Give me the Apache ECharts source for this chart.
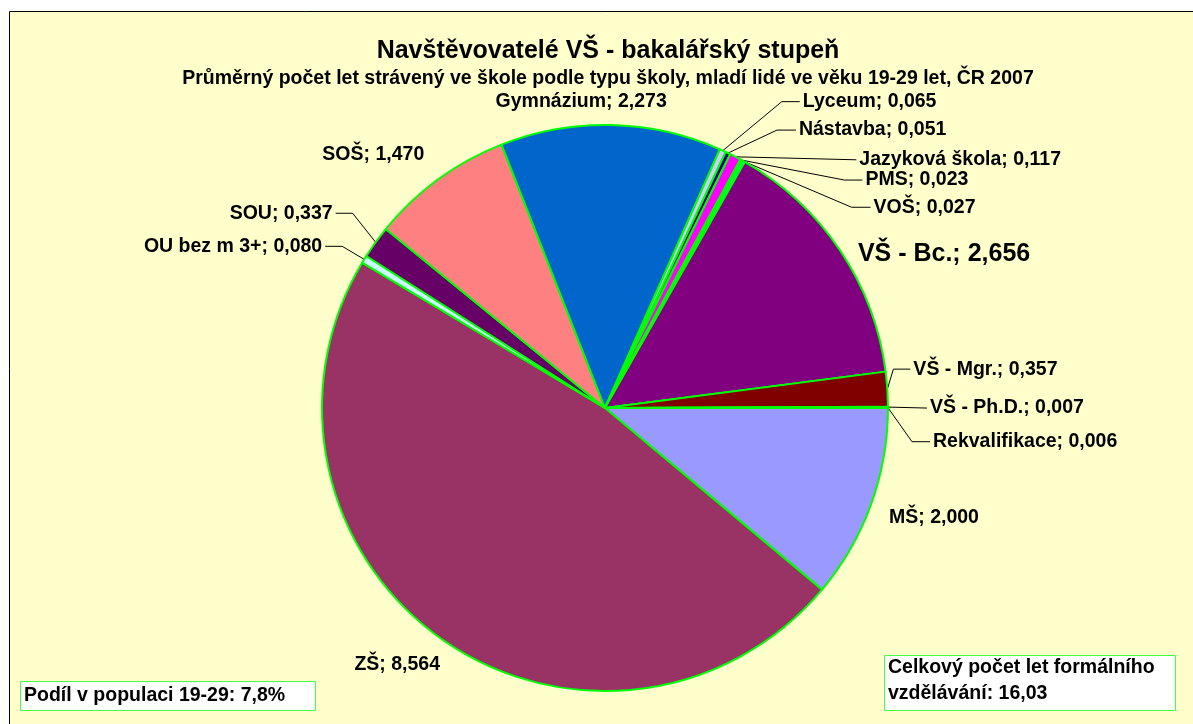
<!DOCTYPE html>
<html>
<head>
<meta charset="utf-8">
<title>Navštěvovatelé VŠ - bakalářský stupeň</title>
<script src="https://cdn.jsdelivr.net/npm/echarts@6.0.0/dist/echarts.min.js"></script>
<style>
    html, body { margin: 0; padding: 0; background: #fff; }
    #pie { width: 1193px; height: 724px; }
</style>
</head>
<body>
<div id="pie"></div>
<script>
// school types, in the order Excel draws them (clockwise from 3 o'clock)
var schools = ['MŠ', 'ZŠ', 'OU bez m 3+', 'SOU', 'SOŠ', 'Gymnázium', 'Lyceum', 'Nástavba',
    'Jazyková škola', 'PMS', 'VOŠ', 'VŠ - Bc.', 'VŠ - Mgr.', 'VŠ - Ph.D.', 'Rekvalifikace'];
// average years spent at each type of school
var years = [2.000, 8.564, 0.080, 0.337, 1.470, 2.273, 0.065, 0.051,
    0.117, 0.023, 0.027, 2.656, 0.357, 0.007, 0.006];
var sliceColors = ['#9999FF', '#993366', '#CCFFFF', '#660066', '#FF8080', '#0066CC', '#CCCCFF', '#000080',
    '#FF00FF', '#FFFF00', '#00FFFF', '#800080', '#800000', '#008080', '#0000FF'];

var titleText = 'Navštěvovatelé VŠ - bakalářský stupeň';
var subtitleText = 'Průměrný počet let strávený ve škole podle typu školy, mladí lidé ve věku 19-29 let, ČR 2007';
var shareNote = 'Podíl v populaci 19-29: 7,8%';
var totalNote = 'Celkový počet let formálního\nvzdělávání: 16,03';

// label placement relative to the slice's edge point (the Excel labels were dragged by hand)
// dx/dy: text anchor offset, elbow: flat part of the leader line, line: draw leader
var labelPlace = [
    { dx: 18, dy: 13, line: false },
    { dx: -1, dy: 26, line: false },
    { dx: -42, dy: -13, elbow: 17, line: true },
    { dx: -43, dy: -29, elbow: 17, line: true },
    { dx: -14, dy: -25, line: false },
    { dx: -30, dy: -23, line: false, align: 'center' },
    { dx: 80, dy: -49, elbow: 18, line: true },
    { dx: 71, dy: -23, elbow: 19, line: true },
    { dx: 124, dy: 3, elbow: 0, line: true },
    { dx: 124, dy: 20, elbow: 18, line: true },
    { dx: 130, dy: 46, elbow: 19, line: true },
    { dx: 18, dy: 4, line: false, big: true },
    { dx: 26, dy: -20, elbow: 17, line: true },
    { dx: 42, dy: 1, elbow: 0, line: true },
    { dx: 45, dy: 34, elbow: 18, line: true }
];

var font = '"Liberation Sans", Arial, sans-serif';

function fmt(v) {
    return v.toFixed(3).replace('.', ',');
}

function createViz() {
    var myChart = echarts.init(document.getElementById('pie'));

    var data = schools.map(function (name, i) {
        var item = {
            name: name,
            value: years[i],
            itemStyle: { color: sliceColors[i] }
        };
        if (labelPlace[i].big) {
            item.label = { fontSize: 25 };
        }
        if (!labelPlace[i].line) {
            item.labelLine = { lineStyle: { opacity: 0 } };
        }
        return item;
    });

    var option = {
        backgroundColor: '#ffffff',
        animation: false,
        title: {
            text: titleText,
            subtext: subtitleText,
            left: 603,
            top: 34,
            textAlign: 'center',
            itemGap: 5,
            textStyle: {
                fontFamily: font,
                fontWeight: 'bold',
                fontSize: 25,
                lineHeight: 25,
                color: '#000'
            },
            subtextStyle: {
                fontFamily: font,
                fontWeight: 'bold',
                fontSize: 19.5,
                lineHeight: 20,
                color: '#000'
            }
        },
        graphic: [
            {
                type: 'rect',
                z: -10,
                shape: { x: 9.5, y: 11.5, width: 1200, height: 730 },
                style: { fill: '#FFFFCC', stroke: '#000', lineWidth: 1 }
            },
            {
                type: 'rect',
                shape: { x: 20.5, y: 681.5, width: 295, height: 29 },
                style: { fill: '#fff', stroke: '#44FF44', lineWidth: 1 }
            },
            {
                type: 'text',
                style: {
                    text: shareNote, x: 24, y: 696, verticalAlign: 'middle',
                    font: 'bold 19.5px ' + font, fill: '#000'
                }
            },
            {
                type: 'rect',
                shape: { x: 884.5, y: 655.5, width: 291, height: 55 },
                style: { fill: '#fff', stroke: '#44FF44', lineWidth: 1 }
            },
            {
                type: 'text',
                style: {
                    text: totalNote, x: 888, y: 655, verticalAlign: 'top', lineHeight: 26,
                    font: 'bold 19.5px ' + font, fill: '#000'
                }
            }
        ],
        series: [
            {
                name: 'Roky',
                type: 'pie',
                center: [605, 408],
                radius: 283,
                startAngle: 0,
                clockwise: true,
                avoidLabelOverlap: false,
                minShowLabelAngle: 0,
                itemStyle: {
                    borderColor: '#00FF00',
                    borderWidth: 2
                },
                emphasis: { disabled: true },
                label: {
                    show: true,
                    position: 'outside',
                    fontFamily: font,
                    fontWeight: 'bold',
                    fontSize: 19.5,
                    color: '#000',
                    formatter: function (p) {
                        return p.name + '; ' + fmt(p.value);
                    }
                },
                labelLine: {
                    show: true,
                    length: 10,
                    length2: 10,
                    smooth: false,
                    lineStyle: { color: '#000', width: 1 }
                },
                labelLayout: function (p) {
                    var place = labelPlace[p.dataIndex];
                    var edge = p.labelLinePoints[0];
                    var x = edge[0] + place.dx;
                    var y = edge[1] + place.dy;
                    var side = p.align === 'right' ? -1 : 1;
                    var pts;
                    if (!place.line) {
                        pts = [edge, edge];
                    } else if (place.elbow) {
                        pts = [edge, [x - side * (3 + place.elbow), y], [x - side * 3, y]];
                    } else {
                        pts = [edge, [x - side * 3, y]];
                    }
                    var out = { x: x, y: y, labelLinePoints: pts };
                    if (place.align) {
                        out.align = place.align;
                    }
                    return out;
                },
                data: data
            }
        ]
    };

    myChart.setOption(option);
}

createViz();
</script>
</body>
</html>
